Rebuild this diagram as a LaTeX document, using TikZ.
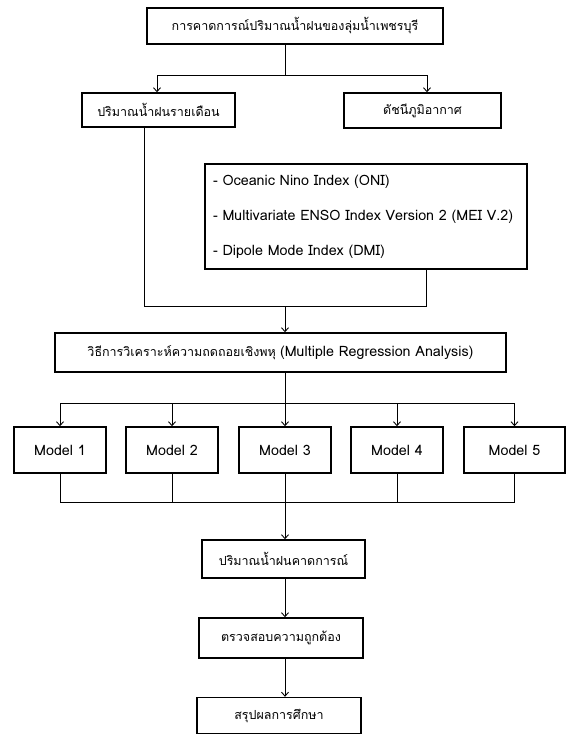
\documentclass[tikz,border=0pt]{standalone}
\usepackage{fontspec}
\newfontfamily\thaifont[Script=Thai]{Loma}
\newcommand\lateinisch{\fontsize{14.3}{16}\selectfont}
\usetikzlibrary{arrows.meta}
\begin{document}
\begin{tikzpicture}[x=1pt,y=-1pt,
	kasten/.style={draw,line width=1.4pt,inner sep=0pt,font=\thaifont\fontsize{12.5}{14}\selectfont},
	modell/.style={kasten,minimum width=92pt,minimum height=46pt,font=\thaifont\lateinisch},
	linie/.style={line width=0.9pt},
	pfeil/.style={linie,-{Straight Barb[length=4pt,width=7pt]}}]
	\useasboundingbox (0,0) rectangle (567,734);
	\node[kasten,minimum width=296pt,minimum height=36pt] (Titel) at (295,26) {การคาดการณ์ปริมาณน้ำฝนของลุ่มน้ำเพชรบุรี};
	\node[kasten,minimum width=153pt,minimum height=34pt] (Regen) at (158.5,110) {ปริมาณน้ำฝนรายเดือน};
	\node[kasten,minimum width=157pt,minimum height=35pt] (Klima) at (422.5,110.5) {ดัชนีภูมิอากาศ};
	\node[kasten,minimum height=105pt,text width=306pt,inner xsep=8pt,align=left,font=\thaifont\fontsize{14.3}{35}\selectfont] (Indizes) at (366,216.5) {- Oceanic Nino Index (ONI)\\- Multivariate ENSO Index Version 2 (MEI V.2)\\- Dipole Mode Index (DMI)};
	\node[kasten,minimum width=451pt,minimum height=39pt] (Regression) at (280.5,352.5) {วิธีการวิเคราะห์ความถดถอยเชิงพหุ {\lateinisch(Multiple Regression Analysis)}};
	\node[modell] (Modell1) at (60,450) {Model 1};
	\node[modell] (Modell2) at (172,450) {Model 2};
	\node[modell] (Modell3) at (285,450) {Model 3};
	\node[modell] (Modell4) at (397,450) {Model 4};
	\node[modell,minimum width=101pt] (Modell5) at (514.5,450) {Model 5};
	\node[kasten,minimum width=163pt,minimum height=38pt] (Prognose) at (283.5,559) {ปริมาณน้ำฝนคาดการณ์};
	\node[kasten,minimum width=164pt,minimum height=40pt] (Pruefung) at (281,638) {ตรวจสอบความถูกต้อง};
	\node[kasten,minimum width=164pt,minimum height=36pt] (Fazit) at (279,715.5) {สรุปผลการศึกษา};
	\coordinate (Achse) at (285,0);
	\coordinate (Gabel1) at (285,75);
	\coordinate (Gabel2) at (285,306);
	\coordinate (Gabel3) at (285,403);
	\coordinate (Gabel4) at (285,502);
	\draw [linie] (Titel.south -| Achse) -- (Gabel1);
	\draw [pfeil] (Gabel1) -| ([xshift=-1.5pt]Regen.north);
	\draw [pfeil] (Gabel1) -| ([xshift=4.5pt]Klima.north);
	\draw [linie] ([xshift=-14.5pt]Regen.south) |- (Gabel2);
	\draw [linie] ([xshift=60pt]Indizes.south) |- (Gabel2);
	\draw [pfeil] (Gabel2) -- (Regression.north -| Achse);
	\draw [linie] (Regression.south -| Achse) -- (Gabel3);
	\draw [linie] (Gabel3 -| Modell1) -- (Gabel3 -| Modell5);
	\foreach \i in {1,...,5}
		\draw [pfeil] (Gabel3 -| Modell\i) -- (Modell\i.north);
	\foreach \i in {1,...,5}
		\draw [linie] (Modell\i.south) -- (Gabel4 -| Modell\i);
	\draw [linie] (Gabel4 -| Modell1) -- (Gabel4 -| Modell5);
	\draw [pfeil] (Gabel4) -- (Prognose.north -| Achse);
	\draw [pfeil] (Prognose.south -| Achse) -- (Pruefung.north -| Achse);
	\draw [pfeil] (Pruefung.south -| Achse) -- (Fazit.north -| Achse);
\end{tikzpicture}
\end{document}
